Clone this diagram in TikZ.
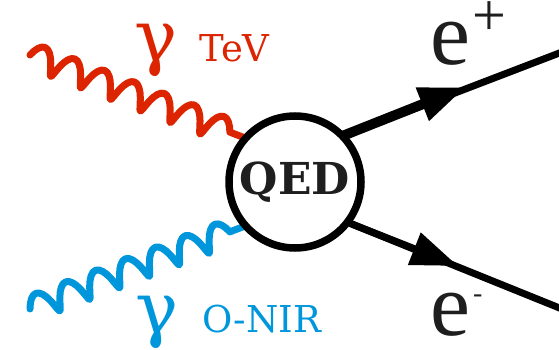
\documentclass[tikz,border=0pt]{standalone}
\usepackage{fontspec}
\setmainfont{DejaVu Serif}
\newfontfamily\efont{Liberation Serif}
\usetikzlibrary{decorations.pathmorphing,arrows.meta,calc,backgrounds}
\definecolor{photred}{RGB}{220,36,0}
\definecolor{photblue}{RGB}{0,150,220}
\definecolor{qedtext}{RGB}{30,30,30}
\begin{document}
\begin{tikzpicture}[x=1pt,y=-1pt,
  photon/.style={line width=7pt, line cap=round, line join=round, decorate,
    decoration={coil, aspect=0.25, segment length=32pt, amplitude=12.5pt}},
  fermion/.style={line width=7pt},
  thickfermion/.style={line width=10pt},
  fermarrow/.style={-{Triangle[length=47pt,width=33pt]}},
  lbl/.style={inner sep=0pt, anchor=base west},
  vertexstyle/.style={circle, draw, line width=7.5pt, fill=white, minimum size=132pt, inner sep=0pt,
    text=qedtext, font=\bfseries\fontsize{44}{44}\selectfont}]
\useasboundingbox (0,0) rectangle (559,350);
\node[vertexstyle] (qed) at (295,182) {QED};
\coordinate (rs) at (30,55);
\coordinate (re) at (258,143);
\coordinate (bs) at (30,309);
\coordinate (be) at (258,221);
\coordinate (us) at (331,140.5);
\coordinate (ut) at (466,87);
\coordinate (ue) at (562,52);
\coordinate (ls) at (333,216.5);
\coordinate (lt) at (458,266);
\coordinate (le) at (562,309);
\begin{scope}[on background layer]
  \draw[photon, photred] (rs) -- (re);
  \draw[photon, photblue] (bs) -- (be);
  \draw[fermion] (us) -- (ue);
  \draw[thickfermion, fermarrow] (us) -- (ut);
  \draw[fermion] (ls) -- (le);
  \draw[fermion, fermarrow] (ls) -- (lt);
\end{scope}
\node[inner sep=0pt, text=photred, font=\fontsize{72}{72}\selectfont] (g1) at (156,50) {γ};
\node[lbl, text=photred, font=\fontsize{37}{37}\selectfont] (tev) at (199,62) {TeV};
\node[inner sep=0pt, text=photblue, font=\fontsize{72}{72}\selectfont] (g2) at (157,322) {γ};
\node[lbl, text=photblue, font=\fontsize{37}{37}\selectfont] (onir) at (202,332) {O-NIR};
\node[lbl, text=qedtext, font=\efont\fontsize{90}{90}\selectfont] (ep) at (430,65) {e\raisebox{29pt}{\fontsize{60}{60}\selectfont\kern2pt +}};
\node[lbl, text=qedtext, font=\efont\fontsize{90}{90}\selectfont] (em) at (430,335) {e\raisebox{33pt}{\fontsize{28}{28}\selectfont\kern3pt -}};
\end{tikzpicture}
\end{document}
